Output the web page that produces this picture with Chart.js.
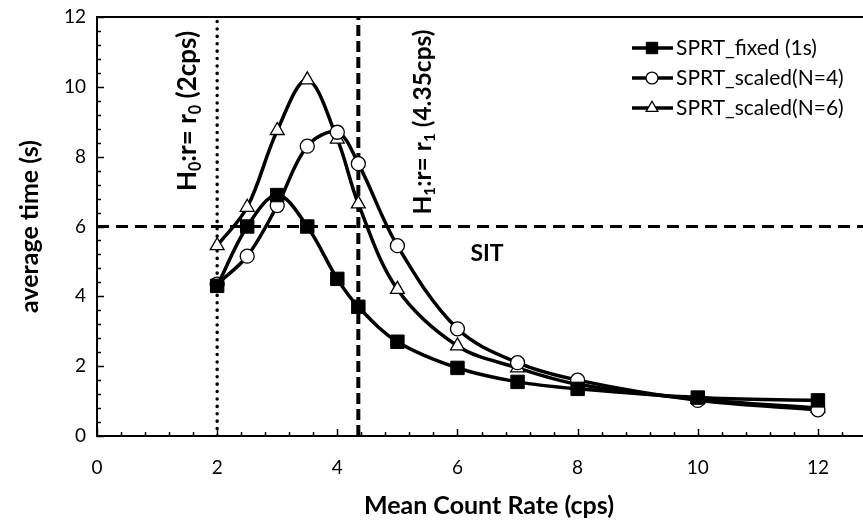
<!DOCTYPE html>
<html>
<head>
<meta charset="utf-8">
<script src="https://cdn.jsdelivr.net/npm/chart.js@4.4.1/dist/chart.umd.min.js"></script>
<style>
html, body { margin: 0; padding: 0; background: #fff; overflow: hidden; }
#wrap { width: 863px; height: 531px; }
</style>
</head>
<body>
<div id="wrap"><canvas id="rateChart"></canvas></div>
<script>
// values
const rates = [2, 2.5, 3, 3.5, 4, 4.35, 5, 6, 7, 8, 10, 12];
const fixedTime = [4.3, 6.0, 6.9, 6.0, 4.5, 3.7, 2.7, 1.95, 1.55, 1.35, 1.1, 1.02];
const scaled4Time = [4.35, 5.15, 6.6, 8.3, 8.7, 7.8, 5.45, 3.07, 2.1, 1.6, 1.02, 0.75];
const scaled6Time = [5.45, 6.55, 8.75, 10.2, 8.5, 6.65, 4.2, 2.58, 1.95, 1.48, 1.05, 0.8];
const seriesNames = ['SPRT_fixed (1s)', 'SPRT_scaled(N=4)', 'SPRT_scaled(N=6)'];
const h0Rate = 2;
const h1Rate = 4.35;
const sitTime = 6;
const xMax = 12.75;
const yMax = 12;

const FONT = 'Lato, "Open Sans", sans-serif';

function pts(ys) {
    return rates.map((x, i) => ({ x: x, y: ys[i] }));
}

// draw text made of pieces, some of them subscript, centred at x,y
function drawRich(ctx, parts, x, y, size, vertical) {
    ctx.save();
    ctx.translate(x, y);
    if (vertical) ctx.rotate(-Math.PI / 2);
    ctx.textBaseline = 'middle';
    ctx.textAlign = 'left';
    ctx.fillStyle = '#000';
    let total = 0;
    parts.forEach(p => {
        ctx.font = 'bold ' + (p.sub ? size * 0.62 : size) + 'px ' + FONT;
        p.w = ctx.measureText(p.t).width;
        total += p.w;
    });
    let cx = -total / 2;
    parts.forEach(p => {
        ctx.font = 'bold ' + (p.sub ? size * 0.62 : size) + 'px ' + FONT;
        ctx.fillText(p.t, cx, p.sub ? size * 0.3 : 0);
        cx += p.w;
    });
    ctx.restore();
}

const decorPlugin = {
    id: 'decor',
    afterDraw(chart) {
        const ctx = chart.ctx;
        const a = chart.chartArea;
        const xs = chart.scales.x, ys = chart.scales.y;
        ctx.save();
        ctx.strokeStyle = '#000';
        // top frame line
        ctx.lineWidth = 2;
        ctx.beginPath();
        ctx.moveTo(a.left, a.top);
        ctx.lineTo(a.right, a.top);
        ctx.stroke();
        // inside ticks, major every 2, minor every 0.4
        ctx.lineWidth = 1.5;
        for (let i = 0; i * 0.4 <= xMax + 0.001; i++) {
            const px = Math.round(xs.getPixelForValue(i * 0.4)) + 0.5;
            const len = i % 5 === 0 ? 7 : 4;
            ctx.beginPath();
            ctx.moveTo(px, a.bottom);
            ctx.lineTo(px, a.bottom - len);
            ctx.stroke();
        }
        for (let i = 0; i * 0.4 <= yMax + 0.001; i++) {
            const py = Math.round(ys.getPixelForValue(i * 0.4)) + 0.5;
            const len = i % 5 === 0 ? 7 : 4;
            ctx.beginPath();
            ctx.moveTo(a.left, py);
            ctx.lineTo(a.left + len, py);
            ctx.stroke();
        }
        ctx.restore();

        // annotations
        drawRich(ctx, [{ t: 'H' }, { t: '0', sub: true }, { t: ':r= r' }, { t: '0', sub: true }, { t: ' (2cps)' }],
            188, 111, 26, true);
        drawRich(ctx, [{ t: 'H' }, { t: '1', sub: true }, { t: ':r= r' }, { t: '1', sub: true }, { t: ' (4.35cps)' }],
            423, 122, 24.5, true);
        drawRich(ctx, [{ t: 'SIT' }], 487, ys.getPixelForValue(sitTime) + 27, 23, false);

        // x axis title, centred on the full (cropped) plot width
        ctx.save();
        ctx.fillStyle = '#000';
        ctx.font = 'bold 25px ' + FONT;
        ctx.textAlign = 'center';
        ctx.textBaseline = 'middle';
        ctx.fillText('Mean Count Rate (cps)', 489, 506);
        ctx.restore();

        // legend, top right inside the plot
        const rowsY = [48, 78, 108];
        ctx.save();
        for (let i = 0; i < 3; i++) {
            const y = rowsY[i];
            const ds = chart.data.datasets[i];
            ctx.strokeStyle = '#000';
            ctx.lineWidth = 3.5;
            ctx.beginPath();
            ctx.moveTo(632, y);
            ctx.lineTo(673, y);
            ctx.stroke();
            ctx.fillStyle = ds.pointBackgroundColor;
            ctx.strokeStyle = '#000';
            ctx.lineWidth = ds.pointBorderWidth;
            Chart.helpers.drawPoint(ctx, {
                pointStyle: ds.pointStyle,
                rotation: 0,
                radius: ds.pointRadius * 0.85,
                borderWidth: ds.pointBorderWidth
            }, 652, y);
            ctx.fillStyle = '#000';
            ctx.font = '21px ' + FONT;
            ctx.textBaseline = 'middle';
            ctx.textAlign = 'left';
            ctx.fillText(seriesNames[i], 676, y);
        }
        ctx.restore();
    }
};

function refLine(points, dash, width, cap) {
    return {
        label: 'ref',
        data: points,
        borderColor: '#000',
        borderWidth: width,
        borderDash: dash,
        borderCapStyle: cap,
        pointRadius: 0,
        tension: 0,
        fill: false
    };
}

const chart = new Chart(document.getElementById('rateChart'), {
    type: 'line',
    data: {
        datasets: [
            {
                label: seriesNames[0],
                data: pts(fixedTime),
                borderColor: '#000',
                borderWidth: 3.5,
                tension: 0.35,
                pointStyle: 'rect',
                pointRadius: 9.5,
                pointBackgroundColor: '#000',
                pointBorderColor: '#000',
                pointBorderWidth: 1
            },
            {
                label: seriesNames[1],
                data: pts(scaled4Time),
                borderColor: '#000',
                borderWidth: 3.5,
                tension: 0.35,
                pointStyle: 'circle',
                pointRadius: 7,
                pointBackgroundColor: '#fff',
                pointBorderColor: '#000',
                pointBorderWidth: 1.3
            },
            {
                label: seriesNames[2],
                data: pts(scaled6Time),
                borderColor: '#000',
                borderWidth: 3.5,
                tension: 0.35,
                pointStyle: 'triangle',
                pointRadius: 8,
                pointBackgroundColor: '#fff',
                pointBorderColor: '#000',
                pointBorderWidth: 1.3
            },
            refLine([{ x: 0, y: sitTime }, { x: xMax, y: sitTime }], [12, 7], 3, 'butt'),
            refLine([{ x: h1Rate, y: 0 }, { x: h1Rate, y: yMax }], [11, 5], 4, 'butt'),
            refLine([{ x: h0Rate, y: 0 }, { x: h0Rate, y: yMax }], [0.1, 7.3], 3.5, 'round')
        ]
    },
    options: {
        responsive: true,
        maintainAspectRatio: false,
        animation: false,
        layout: { autoPadding: false, padding: { top: 17, right: 0, left: 0, bottom: 0 } },
        plugins: {
            legend: { display: false },
            tooltip: { enabled: false }
        },
        scales: {
            x: {
                type: 'linear',
                min: 0,
                max: xMax,
                grid: { display: false, drawTicks: true, tickLength: 17, tickColor: 'rgba(0,0,0,0)' },
                border: { display: true, color: '#000', width: 2 },
                ticks: {
                    stepSize: 2,
                    includeBounds: false,
                    padding: 3,
                    color: '#000',
                    font: { family: FONT, size: 19 }
                },
                title: { display: false },
                afterFit(scale) {
                    scale.height = 95;
                    scale.paddingLeft = 0;
                    scale.paddingRight = 0;
                }
            },
            y: {
                min: 0,
                max: yMax,
                grid: { display: false, drawTicks: true, tickLength: 11, tickColor: 'rgba(0,0,0,0)' },
                border: { display: true, color: '#000', width: 2 },
                ticks: {
                    stepSize: 2,
                    includeBounds: false,
                    padding: 0,
                    color: '#000',
                    font: { family: FONT, size: 19 }
                },
                title: {
                    display: true,
                    text: 'average time (s)',
                    color: '#000',
                    font: { family: FONT, size: 25, weight: 'bold' },
                    padding: { top: 15 }
                },
                afterFit(scale) {
                    scale.width = 97;
                    scale.paddingTop = 0;
                    scale.paddingBottom = 0;
                }
            }
        }
    },
    plugins: [decorPlugin]
});
</script>
</body>
</html>
